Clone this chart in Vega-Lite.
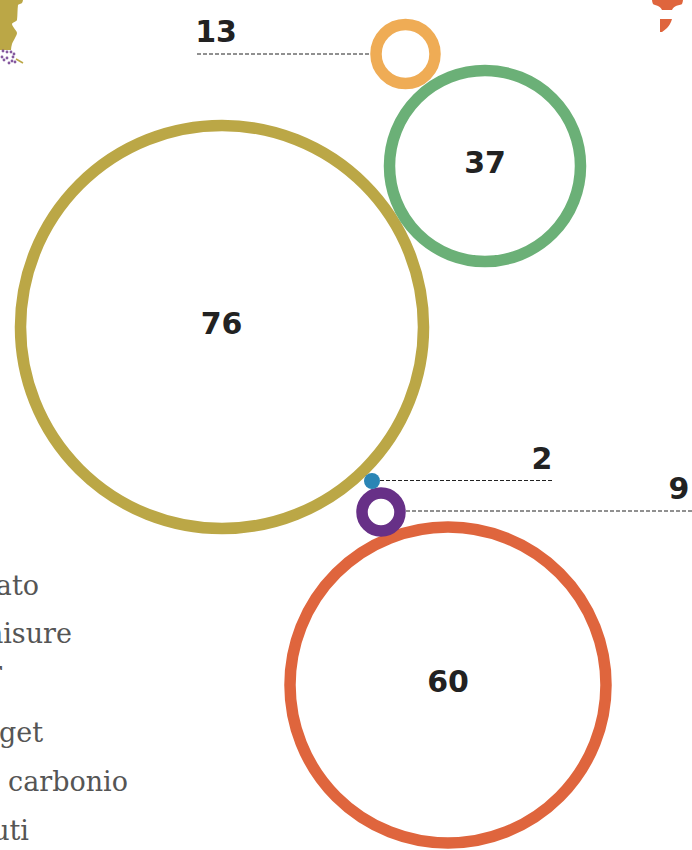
{
"$schema":"https://vega.github.io/schema/vega-lite/v6.json",
"width":692,"height":850,"autosize":{"type":"none"},"padding":0,
"background":"white",
"config":{"view":{"stroke":null}},
"datasets":{
"cerchi":[
{"categoria":"rosso","valore":60,"x":448,"y":685,"lx":448,"ly":683},
{"categoria":"oro","valore":76,"x":222,"y":327,"lx":221.5,"ly":325},
{"categoria":"verde","valore":37,"x":485,"y":166,"lx":485,"ly":164},
{"categoria":"arancio","valore":13,"x":405.5,"y":54,"lx":216,"ly":33},
{"categoria":"viola","valore":9,"x":381,"y":512,"lx":679,"ly":490},
{"categoria":"blu","valore":2,"x":372,"y":481,"lx":542,"ly":460}
],
"guide":[
{"x":197,"x2":370,"y":54},
{"x":380,"x2":553,"y":480.5},
{"x":406,"x2":692,"y":511}
],
"testi":[
{"t":"ato","x":39,"y":595},
{"t":"misure","x":72,"y":643},
{"t":"r","x":2,"y":681},
{"t":"get","x":43,"y":742},
{"t":"carbonio","x":128,"y":791},
{"t":"uti","x":29,"y":840}
],
"mappa":[
{"a":"oro","y":0,"x":0,"x2":23},
{"a":"oro","y":3,"x":0,"x2":22},
{"a":"oro","y":5,"x":0,"x2":18},
{"a":"oro","y":20,"x":0,"x2":17},
{"a":"oro","y":24,"x":0,"x2":12},
{"a":"oro","y":28,"x":0,"x2":14},
{"a":"oro","y":33,"x":0,"x2":17},
{"a":"oro","y":38,"x":0,"x2":15},
{"a":"oro","y":44,"x":0,"x2":12},
{"a":"oro","y":50,"x":0,"x2":11},
{"a":"rosso","y":0,"x":652,"x2":683},
{"a":"rosso","y":4,"x":653,"x2":682},
{"a":"rosso","y":6,"x":658,"x2":676},
{"a":"rosso","y":10,"x":662,"x2":672},
{"a":"rosso2","y":19,"x":660,"x2":672},
{"a":"rosso2","y":24,"x":660,"x2":670},
{"a":"rosso2","y":28,"x":660,"x2":667},
{"a":"rosso2","y":32,"x":660,"x2":662}
],
"puntini":[
{"x":3,"y":51},{"x":7,"y":52},{"x":11,"y":52},{"x":14,"y":54},{"x":2,"y":57},{"x":7,"y":58},{"x":13,"y":57},{"x":12,"y":61},{"x":4,"y":60},{"x":15,"y":62},{"x":9,"y":63}
],
"coda":[{"x":16,"y":59},{"x":23,"y":63}]
},
"encoding":{},
"layer":[
{"data":{"name":"mappa"},"mark":{"type":"area","orient":"horizontal","interpolate":"monotone"},
 "encoding":{
  "y":{"field":"y","type":"quantitative","scale":{"domain":[850,0],"range":[850,0],"nice":false,"zero":false},"axis":null},
  "x":{"field":"x","type":"quantitative","scale":{"domain":[0,692],"range":[0,692],"nice":false,"zero":false},"axis":null},
  "x2":{"field":"x2"},
  "detail":{"field":"a"},
  "color":{"field":"a","type":"nominal","legend":null,"scale":{"domain":["oro","rosso","rosso2"],"range":["#BBA746","#DF653D","#DF653D"]}}}},
{"data":{"name":"puntini"},"mark":{"type":"point","filled":true,"size":8,"color":"#673087","opacity":0.8},
 "encoding":{"x":{"field":"x","type":"quantitative"},"y":{"field":"y","type":"quantitative"}}},
{"data":{"name":"coda"},"mark":{"type":"line","color":"#BBA746","strokeWidth":1.5},
 "encoding":{"x":{"field":"x","type":"quantitative"},"y":{"field":"y","type":"quantitative"}}},
{"data":{"name":"guide"},"mark":{"type":"rule","color":"#222222","strokeWidth":1,"strokeDash":[4,2]},
 "encoding":{"x":{"field":"x","type":"quantitative"},"x2":{"field":"x2"},"y":{"field":"y","type":"quantitative"}}},
{"data":{"name":"cerchi"},"transform":[{"filter":"datum.valore>2"}],
 "mark":{"type":"point","filled":false,"shape":"circle","strokeWidth":11.5,"opacity":1},
 "encoding":{"x":{"field":"x","type":"quantitative"},"y":{"field":"y","type":"quantitative"},
  "size":{"field":"valore","type":"quantitative","legend":null,"scale":{"type":"linear","domain":[2,9,13,37,60,76],"range":[256,1444,3481,36481,99856,162409]}},
  "stroke":{"field":"categoria","type":"nominal","legend":null,"scale":{"domain":["oro","verde","arancio","rosso","viola","blu"],"range":["#BBA746","#6BB077","#EFAC55","#DF653D","#673087","#2A85B5"]}}}},
{"data":{"name":"cerchi"},"transform":[{"filter":"datum.valore==2"}],
 "mark":{"type":"point","filled":true,"shape":"circle","opacity":1,"color":"#2A85B5"},
 "encoding":{"x":{"field":"x","type":"quantitative"},"y":{"field":"y","type":"quantitative"},
  "size":{"field":"valore","type":"quantitative","legend":null,"scale":{"type":"linear","domain":[2,9,13,37,60,76],"range":[256,1444,3481,36481,99856,162409]}}}},
{"data":{"name":"cerchi"},"mark":{"type":"text","font":"DejaVu Sans","fontWeight":"bold","fontSize":30,"color":"#222222","baseline":"middle","align":"center"},
 "encoding":{"x":{"field":"lx","type":"quantitative"},"y":{"field":"ly","type":"quantitative"},"text":{"field":"valore","type":"quantitative"}}},
{"data":{"name":"testi"},"mark":{"type":"text","font":"DejaVu Serif","fontSize":27,"color":"#555555","align":"right","baseline":"alphabetic"},
 "encoding":{"x":{"field":"x","type":"quantitative"},"y":{"field":"y","type":"quantitative"},"text":{"field":"t"}}}
]
}
